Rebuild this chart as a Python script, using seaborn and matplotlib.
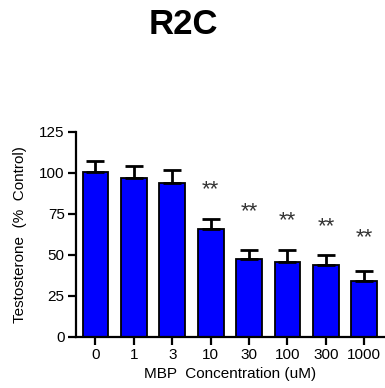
import matplotlib
matplotlib.use("Agg")
import matplotlib.pyplot as plt
import seaborn as sns
import numpy as np
import pandas as pd

categories = ["0", "1", "3", "10", "30", "100", "300", "1000"]
values = [100.4, 96.8, 93.6, 65.6, 47.4, 45.6, 44.0, 34.0]
errors = [6.8, 7.3, 8.0, 6.2, 5.6, 7.4, 6.0, 6.0]
star_labels = ["", "", "", "**", "**", "**", "**", "**"]
star_heights = [0, 0, 0, 89.5, 76.5, 70.5, 67, 60.5]
yticks = [0, 25, 50, 75, 100, 125]

sns.set_theme(style="ticks")
plt.rcParams["font.family"] = ["Liberation Sans", "DejaVu Sans"]

df = pd.DataFrame({"conc": categories, "val": values})

fig = plt.figure(figsize=(3.85, 3.88), dpi=100)
ax = fig.add_axes([0.197, 0.132, 0.801, 0.5284])

sns.barplot(data=df, x="conc", y="val", order=categories, color="#0000FF",
            saturation=1, width=0.67, edgecolor="black", linewidth=1.3,
            errorbar=None, ax=ax)

xpos = np.arange(len(categories))
ax.errorbar(xpos, values, yerr=[np.zeros(len(errors)), errors], fmt="none",
            ecolor="black", elinewidth=2, capsize=6.5, capthick=2, zorder=1)

for i, (lab, h) in enumerate(zip(star_labels, star_heights)):
    if lab:
        ax.text(i, h, lab, ha="center", va="center", fontsize=16, color="#333333")

ax.set_xlim(-0.51, 7.52)
ax.set_ylim(0, 125)
ax.set_yticks(yticks)
ax.set_yticklabels([str(t) for t in yticks])
sns.despine(ax=ax)
for s in ["left", "bottom"]:
    ax.spines[s].set_linewidth(1.6)
    ax.spines[s].set_color("black")
ax.tick_params(axis="both", direction="out", length=6, width=1.6, color="black",
               labelsize=11, labelcolor="black", pad=2)
ax.set_xlabel("MBP  Concentration (uM)", fontsize=11, color="black", labelpad=4)
ax.set_ylabel("Testosterone  (%  Control)", fontsize=11, color="black", labelpad=9)

fig.text(183 / 385, 1 - 24 / 388, "R2C", ha="center", va="center",
         fontsize=25, fontweight="bold", color="black")

fig.savefig("out.png", dpi=100)
